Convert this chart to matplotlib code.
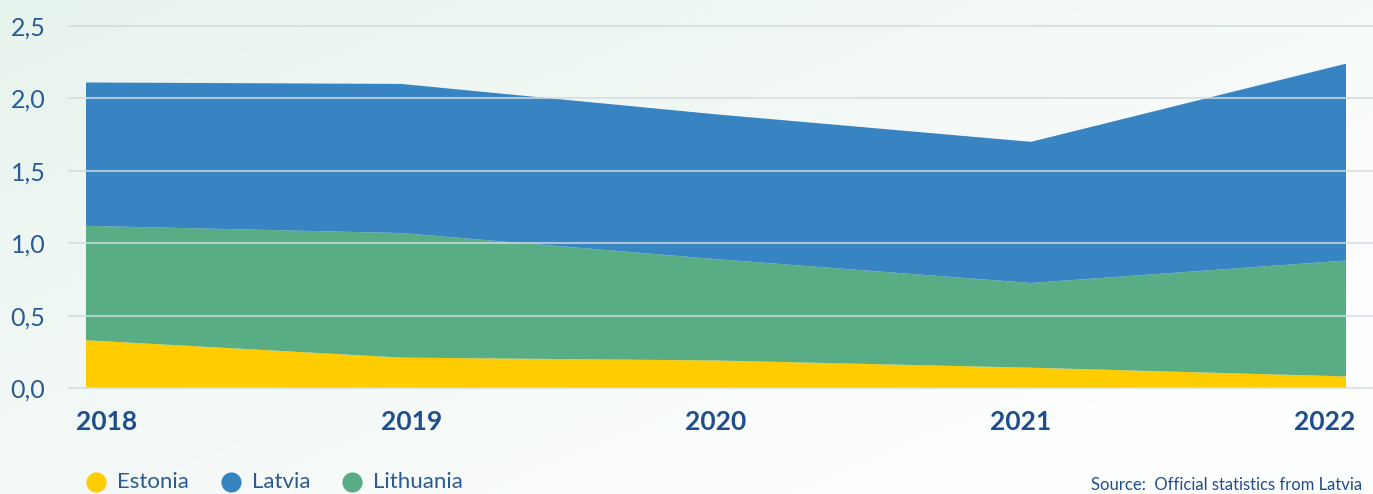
import numpy as np
import matplotlib
matplotlib.use("Agg")
import matplotlib.pyplot as plt
from matplotlib.lines import Line2D

years = [2018, 2019, 2020, 2021, 2022]
estonia = [0.33, 0.21, 0.19, 0.14, 0.08]
lithuania = [0.79, 0.86, 0.70, 0.585, 0.80]
latvia = [0.99, 1.03, 1.00, 0.975, 1.36]
yticks = [0.0, 0.5, 1.0, 1.5, 2.0, 2.5]
names = ["Estonia", "Latvia", "Lithuania"]

c_est = "#FFCC00"
c_lat = "#3884C2"
c_lit = "#58AD84"
txt = "#1F4E8C"

plt.rcParams['font.family'] = ['Lato', 'DejaVu Sans']

W, H = 1373, 494
fig = plt.figure(figsize=(W / 100, H / 100), dpi=100)

# background gradient (mint top-left -> white bottom-right)
bg = fig.add_axes([0, 0, 1, 1], zorder=-10)
gx, gy = np.meshgrid(np.linspace(0, 1, 300), np.linspace(0, 1, 120))
t = np.clip(0.65 * gx + 0.55 * gy, 0, 1)
c0 = np.array([0.906, 0.953, 0.929])
c1 = np.array([0.995, 0.998, 0.998])
img = c0[None, None, :] * (1 - t[..., None]) + c1[None, None, :] * t[..., None]
bg.imshow(img, aspect='auto', extent=[0, 1, 0, 1])
bg.axis('off')

ax = fig.add_axes([69 / W, (H - 388) / H, (W - 69) / W, (388 - 26) / H])
ax.patch.set_alpha(0)
ax.stackplot(years, estonia, lithuania, latvia,
             colors=[c_est, c_lit, c_lat], linewidth=0, zorder=2)

x0 = 2018 - 17 / 315
x1 = 2022 + 27 / 315
ax.set_xlim(x0, x1)
ax.set_ylim(0, 2.5)

for yv in yticks:
    ax.axhline(yv, color="#d3dbdf", lw=1.5, alpha=0.75, zorder=3, clip_on=False)

ax.set_yticks(yticks)
ax.set_yticklabels([f"{v:.1f}".replace('.', ',') for v in yticks],
                   fontsize=18, color="#2a5a94")
label_pos = np.linspace(2018 + 21 / 315, 2022 - 21 / 315, 5)
ax.set_xticks(label_pos)
ax.set_xticklabels([str(y) for y in years], fontsize=19, fontweight='bold', color=txt)
ax.tick_params(axis='y', length=0, pad=17)
ax.tick_params(axis='x', length=0, pad=16)
for s in ax.spines.values():
    s.set_visible(False)

# legend drawn by hand
leg_y = 1 - 482 / H
for name, col, px in zip(names, (c_est, c_lat, c_lit), (96, 231, 352)):
    fig.add_artist(Line2D([px / W], [leg_y], marker='o', ls='', markersize=14.5,
                          color=col, markeredgewidth=0, transform=fig.transFigure))
    fig.text((px + 21) / W, leg_y, name, ha='left', va='center',
             fontsize=16, color="#2a5a94")

fig.text(1362 / W, 1 - 485 / H, "Source:  Official statistics from Latvia",
         ha='right', va='center', fontsize=12, color=txt)

fig.savefig("out.png", dpi=100)
